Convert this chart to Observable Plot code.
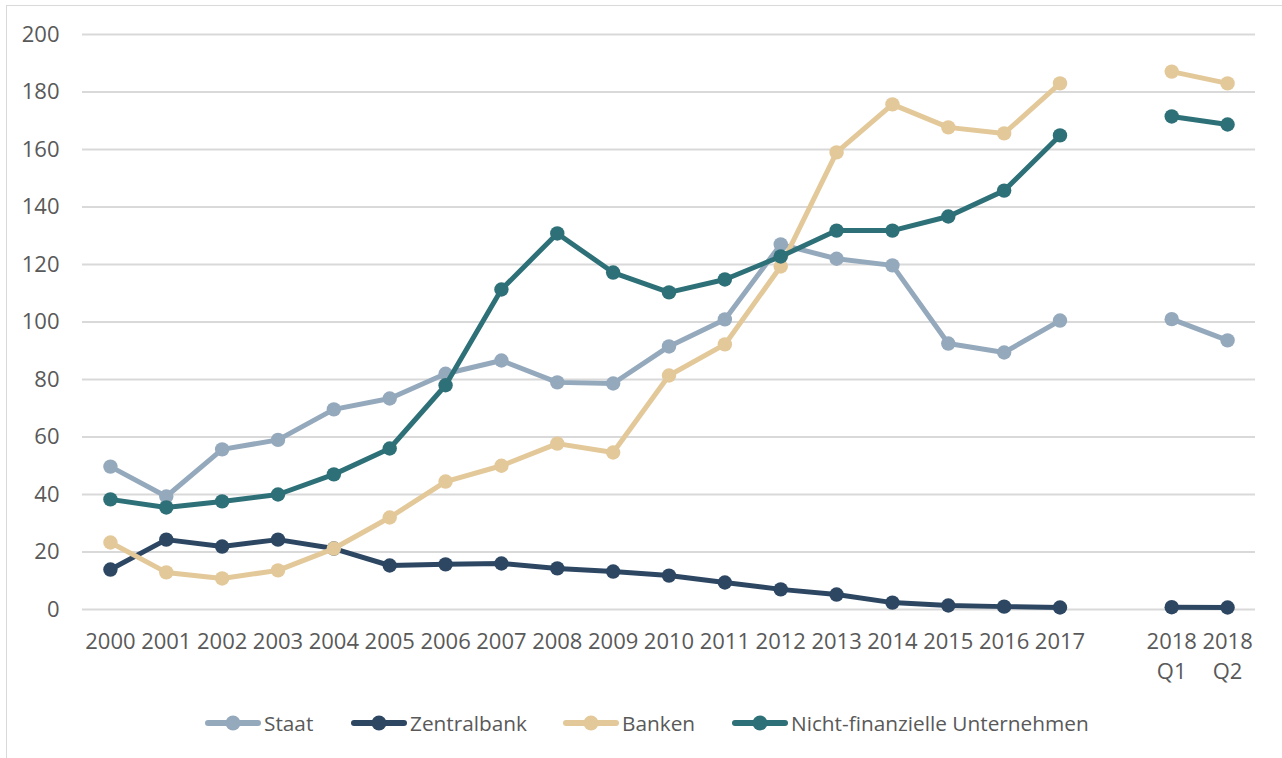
<!DOCTYPE html>
<html>
<head>
<meta charset="utf-8">
<script src="https://cdn.jsdelivr.net/npm/d3@7"></script>
<script src="https://cdn.jsdelivr.net/npm/@observablehq/plot@0.6"></script>
<style>
  html, body { margin: 0; padding: 0; background: #fff; overflow: hidden; }
  #frame { position: absolute; left: 6px; top: 5px; width: 1400px; height: 900px; border: 1.5px solid #d9d9d9; box-sizing: border-box; }
  #chart { position: absolute; left: 0; top: 0; }
  #legend { position: absolute; left: 0; top: 700px; width: 1282px; height: 58px; font-family: "Open Sans", sans-serif; font-size: 20.8px; color: #595959; }
  .item { position: absolute; top: 9px; height: 28px; display: flex; align-items: center; white-space: nowrap; }
  .item svg { margin-right: 3px; }
</style>
</head>
<body>
<div id="frame"></div>
<div id="chart"></div>
<div id="legend"></div>
<script>
const categories = ["2000","2001","2002","2003","2004","2005","2006","2007","2008","2009","2010","2011","2012","2013","2014","2015","2016","2017","","2018 Q1","2018 Q2"];
const yTicks = [0, 20, 40, 60, 80, 100, 120, 140, 160, 180, 200];
const seriesNames = ["Staat", "Zentralbank", "Banken", "Nicht-finanzielle Unternehmen"];
const seriesColors = ["#95a9bd", "#2d4763", "#e3c899", "#2e7077"];
const staat = [49.7, 39.3, 55.7, 59, 69.6, 73.4, 82, 86.6, 79, 78.6, 91.5, 100.9, 127, 122, 119.7, 92.5, 89.4, 100.5, null, 101, 93.6];
const zentralbank = [13.9, 24.3, 21.9, 24.3, 21.2, 15.3, 15.7, 16, 14.3, 13.2, 11.8, 9.4, 7, 5.2, 2.4, 1.4, 1, 0.7, null, 0.8, 0.7];
const banken = [23.3, 12.9, 10.8, 13.6, 21.2, 32, 44.5, 50, 57.7, 54.6, 81.4, 92.2, 119.3, 159, 175.7, 167.7, 165.6, 183, null, 187.1, 183];
const nfu = [38.3, 35.5, 37.6, 40, 47, 56, 78, 111.3, 130.8, 117.2, 110.3, 114.8, 122.8, 131.8, 131.8, 136.7, 145.7, 164.9, null, 171.5, 168.7];
const seriesValues = [staat, zentralbank, banken, nfu];

const seriesMarks = [];
seriesValues.forEach((vals, k) => {
  const data = categories.map((c, i) => ({x: c, y: vals[i]}));
  seriesMarks.push(Plot.line(data, {x: "x", y: "y", stroke: seriesColors[k], strokeWidth: 5, strokeLinejoin: "round", strokeLinecap: "round"}));
  seriesMarks.push(Plot.dot(data, {x: "x", y: "y", r: 7.2, fill: seriesColors[k], stroke: "none"}));
});

const chart = Plot.plot({
  width: 1282,
  height: 700,
  marginTop: 34,
  marginBottom: 91,
  marginLeft: 82,
  marginRight: 27,
  style: {fontFamily: "Open Sans, sans-serif", fontSize: "22px", color: "#595959", background: "transparent", overflow: "visible"},
  x: {type: "point", domain: categories, padding: 0.5, round: false, label: null},
  y: {domain: [0, 200], label: null},
  marks: [
    Plot.gridY(yTicks, {stroke: "#d9d9d9", strokeOpacity: 1, strokeWidth: 2}),
    Plot.axisY(yTicks, {tickSize: 0, tickPadding: 23, label: null, fontSize: 22}),
    Plot.axisX({tickSize: 0, tickPadding: 18, label: null, fontSize: 22, lineHeight: 1.36, tickFormat: d => d.replace(" ", "\n")}),
    ...seriesMarks
  ]
});
document.getElementById("chart").appendChild(chart);

const legendLefts = [205, 351, 563, 732];
const legend = document.getElementById("legend");
seriesNames.forEach((name, k) => {
  const item = document.createElement("div");
  item.className = "item";
  item.style.left = legendLefts[k] + "px";
  item.innerHTML = `<svg width="56" height="18"><line x1="3" y1="9" x2="53" y2="9" stroke="${seriesColors[k]}" stroke-width="6" stroke-linecap="round"/><circle cx="28" cy="9" r="7.5" fill="${seriesColors[k]}"/></svg><span>${name}</span>`;
  legend.appendChild(item);
});
</script>
</body>
</html>
